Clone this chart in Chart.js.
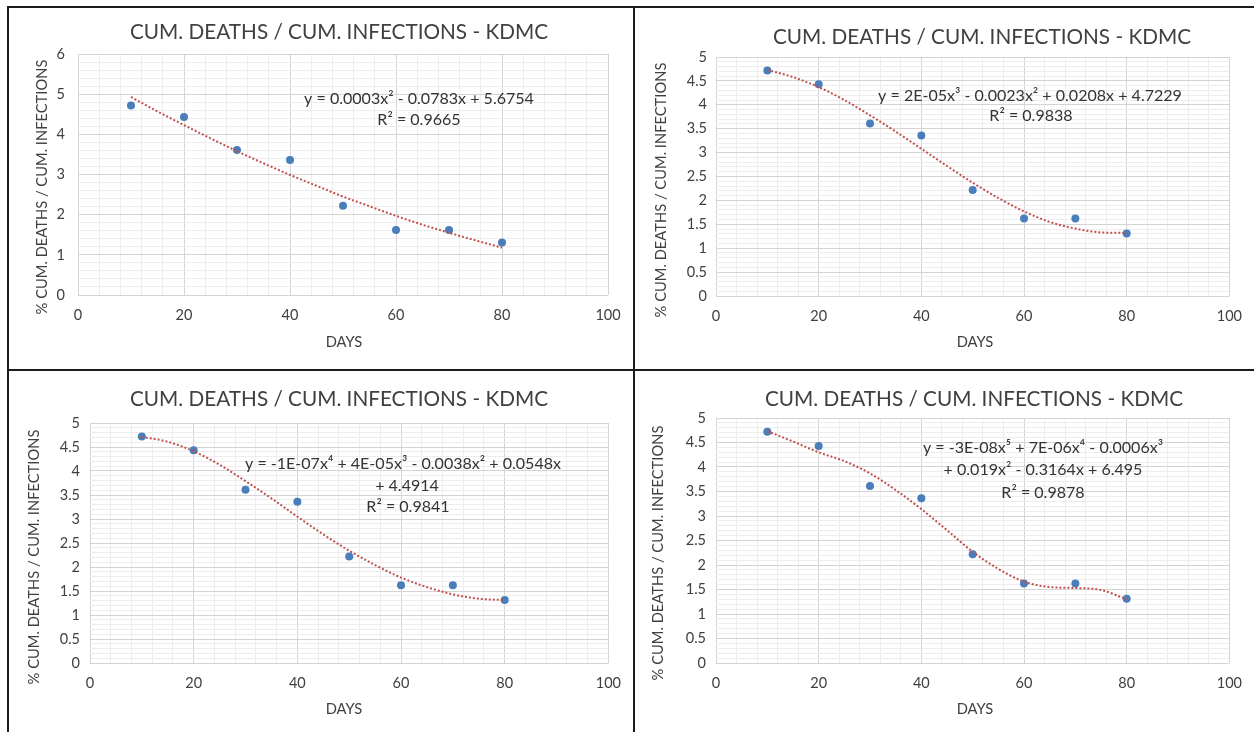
<!DOCTYPE html>
<html>
<head>
<meta charset="utf-8">
<script src="https://cdn.jsdelivr.net/npm/chart.js@4.4.1/dist/chart.umd.min.js"></script>
<style>
    body { margin: 0; background: #fff; width: 1254px; height: 732px; position: relative; overflow: hidden; }
    .rule { position: absolute; background: #1c1c1c; }
    canvas { position: absolute; }
</style>
</head>
<body>
<div class="rule" style="left:7px;top:6px;width:2px;height:726px"></div>
<div class="rule" style="left:7px;top:6px;width:1247px;height:2px"></div>
<div class="rule" style="left:633px;top:6px;width:2px;height:726px"></div>
<div class="rule" style="left:7px;top:369px;width:1247px;height:2px"></div>

<canvas id="c1" width="624" height="361" style="left:9px;top:8px"></canvas>
<canvas id="c2" width="619" height="361" style="left:635px;top:8px"></canvas>
<canvas id="c3" width="624" height="361" style="left:9px;top:371px"></canvas>
<canvas id="c4" width="619" height="361" style="left:635px;top:371px"></canvas>

<script>
// ---- dati ----
const days = [10, 20, 30, 40, 50, 60, 70, 80];
const ratio = [4.72, 4.43, 3.61, 3.36, 2.22, 1.62, 1.62, 1.31];

// linee di tendenza, un punto ogni 5 giorni
const trendDays = [10, 15, 20, 25, 30, 35, 40, 45, 50, 55, 60, 65, 70, 75, 80];
const trendPoly2 = [4.93, 4.57, 4.23, 3.90, 3.58, 3.28, 2.99, 2.72, 2.45, 2.21, 1.97, 1.75, 1.55, 1.36, 1.18];
const trendPoly3 = [4.73, 4.58, 4.37, 4.10, 3.78, 3.44, 3.08, 2.72, 2.37, 2.05, 1.77, 1.55, 1.41, 1.33, 1.32];
const trendPoly4 = [4.71, 4.61, 4.41, 4.13, 3.79, 3.43, 3.05, 2.68, 2.34, 2.04, 1.78, 1.58, 1.43, 1.34, 1.31];
const trendPoly5 = [4.73, 4.52, 4.30, 4.12, 3.87, 3.53, 3.14, 2.71, 2.27, 1.92, 1.66, 1.55, 1.53, 1.49, 1.30];

const TITLE = 'CUM. DEATHS / CUM. INFECTIONS - KDMC';
const X_TITLE = 'DAYS';
const Y_TITLE = '% CUM. DEATHS / CUM. INFECTIONS';

const eqPoly2 = ['y = 0.0003x² - 0.0783x + 5.6754', 'R² = 0.9665'];
const eqPoly3 = ['y = 2E-05x³ - 0.0023x² + 0.0208x + 4.7229', 'R² = 0.9838'];
const eqPoly4 = ['y = -1E-07x⁴ + 4E-05x³ - 0.0038x² + 0.0548x', '+ 4.4914', 'R² = 0.9841'];
const eqPoly5 = ['y = -3E-08x⁵ + 7E-06x⁴ - 0.0006x³', '+ 0.019x² - 0.3164x + 6.495', 'R² = 0.9878'];

const X_MAX = 100, X_MAJOR = 20, X_MINOR = 4;

// ---- dimensioni font ricavate dalle larghezze del riferimento ----
const FONT = 'Lato, "Open Sans", sans-serif';
const mctx = document.createElement('canvas').getContext('2d');
function fitSize(text, target) {
    mctx.font = '100px ' + FONT;
    return 100 * target / mctx.measureText(text).width;
}
const TITLE_PX = fitSize(TITLE, 418);
const EQ_PX = fitSize(eqPoly2[0], 230);
const AXIS_PX = fitSize(Y_TITLE, 255);
const TICK_PX = 14.5;
const TEXT_COL = '#404040';

function isMajor(v, major) {
    return Math.abs(v / major - Math.round(v / major)) < 1e-6;
}

// testo: titolo, titoli assi, equazione
const textPlugin = {
    id: 'panelText',
    afterDraw(chart, args, o) {
        const c = chart.ctx;
        c.save();
        c.fillStyle = TEXT_COL;
        c.textAlign = 'center';
        c.textBaseline = 'middle';
        c.font = TITLE_PX + 'px ' + FONT;
        c.fillText(TITLE, o.title[0], o.title[1]);
        c.font = AXIS_PX + 'px ' + FONT;
        c.fillText(X_TITLE, o.xTitle[0], o.xTitle[1]);
        c.save();
        c.translate(o.yTitle[0], o.yTitle[1]);
        c.rotate(-Math.PI / 2);
        c.fillText(Y_TITLE, 0, 0);
        c.restore();
        c.font = EQ_PX + 'px ' + FONT;
        c.fillStyle = '#333';
        o.eq.forEach((line, i) => c.fillText(line, o.eqPos[i][0], o.eqPos[i][1]));
        c.restore();
    }
};

function makeChart(id, cfg) {
    const tickFont = { family: FONT, size: TICK_PX };
    new Chart(document.getElementById(id), {
        type: 'scatter',
        data: {
            datasets: [
                {
                    type: 'line',
                    data: trendDays.map((d, i) => ({ x: d, y: cfg.trend[i] })),
                    borderColor: '#c0504d',
                    borderWidth: 2,
                    borderDash: [2, 2],
                    pointRadius: 0,
                    cubicInterpolationMode: 'monotone',
                    fill: false,
                    order: 0
                },
                {
                    data: days.map((d, i) => ({ x: d, y: ratio[i] })),
                    backgroundColor: '#4a7ebb',
                    borderColor: '#4a7ebb',
                    borderWidth: 0,
                    pointRadius: 4,
                    order: 1
                }
            ]
        },
        options: {
            responsive: false,
            animation: false,
            devicePixelRatio: 1,
            layout: { padding: { left: 0, right: cfg.pad.right, top: cfg.pad.top, bottom: 0 } },
            plugins: {
                legend: { display: false },
                title: { display: false },
                tooltip: { enabled: false },
                panelText: cfg.text
            },
            scales: {
                x: {
                    type: 'linear',
                    min: 0, max: X_MAX,
                    afterFit: s => { s.height = cfg.pad.bottom; },
                    border: { display: false },
                    grid: {
                        drawTicks: false,
                        color: ctx => isMajor(ctx.tick.value, X_MAJOR) ? '#d4d4d4' : '#ededed'
                    },
                    ticks: {
                        stepSize: X_MINOR,
                        autoSkip: false,
                        maxRotation: 0,
                        padding: 12,
                        color: TEXT_COL,
                        font: tickFont,
                        callback: v => isMajor(v, X_MAJOR) ? String(v) : ''
                    }
                },
                y: {
                    type: 'linear',
                    min: 0, max: cfg.yMax,
                    afterFit: s => { s.width = cfg.pad.left; },
                    border: { display: false },
                    grid: {
                        drawTicks: false,
                        color: ctx => isMajor(ctx.tick.value, cfg.yMajor) ? '#d4d4d4' : '#ededed'
                    },
                    ticks: {
                        stepSize: cfg.yMinor,
                        autoSkip: false,
                        padding: cfg.yPad,
                        color: TEXT_COL,
                        font: tickFont,
                        callback: v => isMajor(v, cfg.yMajor) ? String(Math.round(v * 10) / 10) : ''
                    }
                }
            }
        },
        plugins: [textPlugin]
    });
}

makeChart('c1', {
    trend: trendPoly2, yMax: 6, yMajor: 1, yMinor: 0.2, yPad: 13,
    pad: { left: 69, right: 25, top: 46, bottom: 74 },
    text: { title: [330, 24], xTitle: [335, 334], yTitle: [33, 179],
            eq: eqPoly2, eqPos: [[410, 91], [410, 112]] }
});
makeChart('c2', {
    trend: trendPoly3, yMax: 5, yMajor: 0.5, yMinor: 0.1, yPad: 9,
    pad: { left: 81, right: 19, top: 49, bottom: 73 },
    text: { title: [347, 29], xTitle: [340, 334], yTitle: [26, 182],
            eq: eqPoly3, eqPos: [[395, 88], [396, 108]] }
});
makeChart('c3', {
    trend: trendPoly4, yMax: 5, yMajor: 0.5, yMinor: 0.1, yPad: 10,
    pad: { left: 81, right: 24, top: 52, bottom: 69 },
    text: { title: [330, 28], xTitle: [335, 338], yTitle: [25, 186],
            eq: eqPoly4, eqPos: [[394, 93], [398, 115], [399, 136]] }
});
makeChart('c4', {
    trend: trendPoly5, yMax: 5, yMajor: 0.5, yMinor: 0.1, yPad: 10,
    pad: { left: 81, right: 19, top: 47, bottom: 69 },
    text: { title: [339, 28], xTitle: [340, 338], yTitle: [23, 182],
            eq: eqPoly5, eqPos: [[408, 77], [408, 99], [408, 122]] }
});
</script>
</body>
</html>
